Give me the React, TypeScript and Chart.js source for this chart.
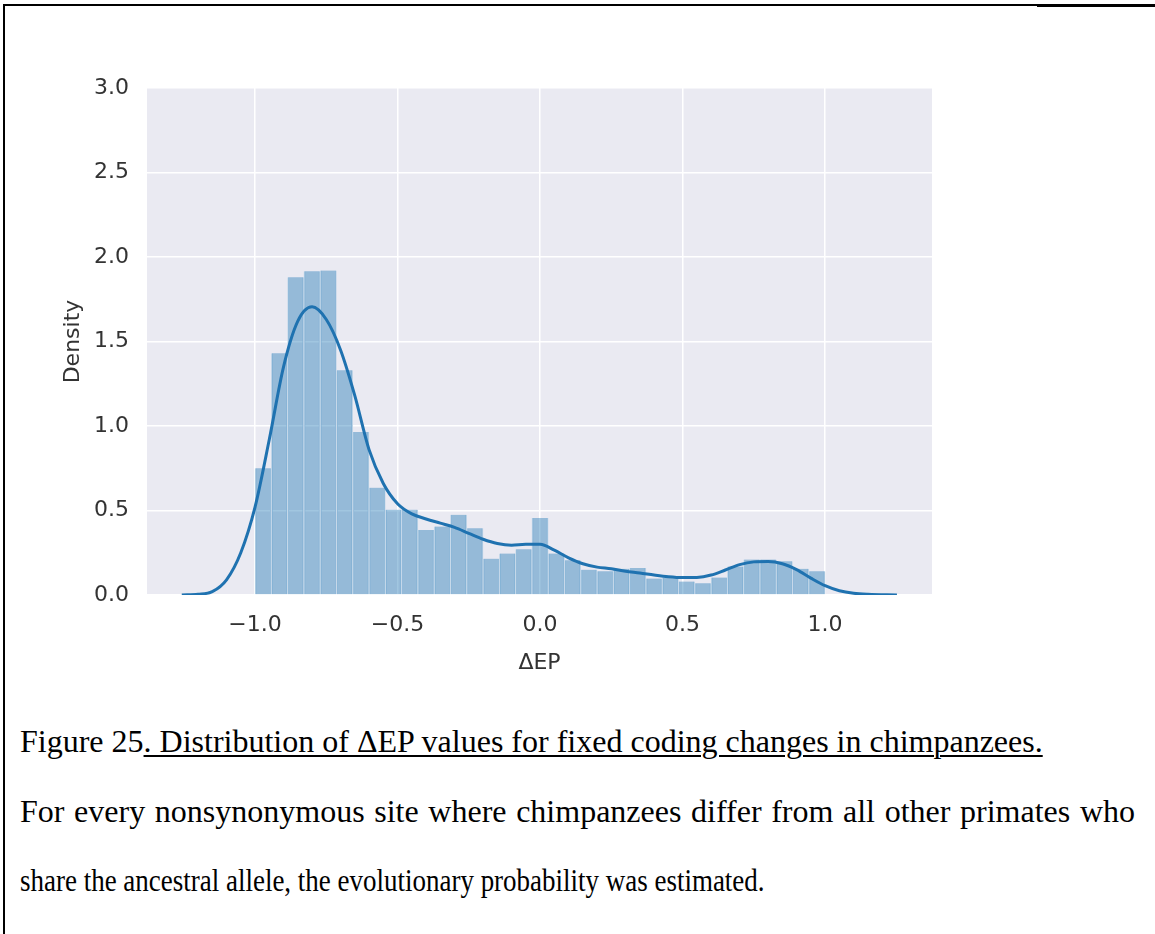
import React, { useEffect, useRef } from 'react';
import { Chart, registerables } from 'chart.js';

Chart.register(...registerables);

// Histogram: 35 equal bins between binStart and binEnd
const binStart = -1.0;
const binEnd = 1.0;
const histHeights = [
  0.75, 1.43, 1.88, 1.915, 1.92, 1.33, 0.965, 0.635, 0.505, 0.505,
  0.385, 0.405, 0.475, 0.395, 0.215, 0.245, 0.27, 0.455, 0.245, 0.205,
  0.15, 0.14, 0.155, 0.16, 0.097, 0.1, 0.08, 0.07, 0.103, 0.168,
  0.21, 0.21, 0.2, 0.155, 0.14,
];

// KDE curve
const kdeX = [
  -1.257, -1.2, -1.15, -1.1, -1.05, -1.0, -0.95, -0.9, -0.85, -0.8,
  -0.75, -0.7, -0.65, -0.6, -0.55, -0.5, -0.45, -0.4, -0.35, -0.3,
  -0.25, -0.2, -0.15, -0.1, -0.05, 0.0, 0.05, 0.1, 0.15, 0.2,
  0.25, 0.3, 0.35, 0.4, 0.45, 0.5, 0.55, 0.6, 0.65, 0.7,
  0.75, 0.8, 0.85, 0.9, 0.95, 1.0, 1.05, 1.1, 1.15, 1.252,
];
const kdeY = [
  0.0, 0.004, 0.02, 0.09, 0.25, 0.52, 0.92, 1.35, 1.62, 1.705,
  1.63, 1.45, 1.18, 0.86, 0.66, 0.54, 0.48, 0.45, 0.425, 0.4,
  0.365, 0.33, 0.305, 0.295, 0.3, 0.3, 0.265, 0.22, 0.185, 0.165,
  0.155, 0.14, 0.13, 0.118, 0.108, 0.103, 0.104, 0.118, 0.148, 0.18,
  0.196, 0.198, 0.185, 0.15, 0.1, 0.055, 0.025, 0.01, 0.004, 0.0,
];

const xTickValues = [-1.0, -0.5, 0.0, 0.5, 1.0];
const xMin = -1.379;
const xMax = 1.375;
const yMin = 0;
const yMax = 3.0;
const yStep = 0.5;
const xLabel = 'ΔEP';
const yLabel = 'Density';

const captionPlain = 'Figure 25';
const captionUnderlined = '. Distribution of ΔEP values for fixed coding changes in chimpanzees.';
const captionLine2 = 'For every nonsynonymous site where chimpanzees differ from all other primates who';
const captionLine3 = 'share the ancestral allele, the evolutionary probability was estimated.';

const fmt = (v: number) => (v < 0 ? '\u2212' : '') + Math.abs(v).toFixed(1);

const plotBg = {
  id: 'plotBg',
  beforeDraw(chart: any) {
    const { ctx, chartArea } = chart;
    if (!chartArea) return;
    ctx.save();
    ctx.fillStyle = '#EAEAF2';
    ctx.fillRect(chartArea.left, chartArea.top, chartArea.right - chartArea.left, chartArea.bottom - chartArea.top);
    ctx.restore();
  },
};

function DistChart() {
  const ref = useRef<HTMLCanvasElement | null>(null);
  useEffect(() => {
    if (!ref.current) return;
    const binWidth = (binEnd - binStart) / histHeights.length;
    const histData = histHeights.map((h, i) => ({ x: binStart + (i + 0.5) * binWidth, y: h }));
    const kdeData = kdeX.map((x, i) => ({ x, y: kdeY[i] }));
    const font = { family: '"DejaVu Sans", sans-serif', size: 22 };
    const textColor = '#333333';
    const chart = new Chart(ref.current, {
      type: 'bar',
      data: {
        datasets: [
          {
            type: 'line',
            data: kdeData as any,
            borderColor: '#1f72b0',
            borderWidth: 3,
            pointRadius: 0,
            cubicInterpolationMode: 'monotone',
            fill: false,
            order: 0,
          } as any,
          {
            type: 'bar',
            data: histData as any,
            backgroundColor: 'rgba(31,119,180,0.42)',
            borderColor: '#c3d7e9',
            borderWidth: { left: 1, right: 1, top: 0, bottom: 0 },
            borderSkipped: false,
            barPercentage: 1,
            categoryPercentage: 1,
            order: 1,
          } as any,
        ],
      },
      options: {
        responsive: false,
        animation: false,
        devicePixelRatio: 1,
        layout: { padding: { top: 88, right: 28, left: 0, bottom: 0 } },
        plugins: { legend: { display: false }, tooltip: { enabled: false } },
        scales: {
          x: {
            type: 'linear',
            min: xMin,
            max: xMax,
            offset: false,
            afterBuildTicks: (s: any) => {
              s.ticks = xTickValues.map((v) => ({ value: v }));
            },
            afterFit: (s: any) => {
              s.height = 105;
            },
            grid: { color: '#ffffff', lineWidth: 1.5, drawTicks: false, offset: false },
            border: { display: false },
            ticks: {
              color: textColor,
              font,
              padding: 17,
              maxRotation: 0,
              autoSkip: false,
              callback: (v: any) => fmt(Number(v)),
            },
            title: { display: true, text: xLabel, color: textColor, font, padding: { top: 0, bottom: 24 } },
          },
          y: {
            type: 'linear',
            min: yMin,
            max: yMax,
            afterFit: (s: any) => {
              s.width = 147;
            },
            grid: { color: '#ffffff', lineWidth: 1.5, drawTicks: false },
            border: { display: false },
            ticks: {
              stepSize: yStep,
              color: textColor,
              font,
              padding: 18,
              callback: (v: any) => fmt(Number(v)),
            },
            title: { display: true, text: yLabel, color: textColor, font, padding: { top: 60, bottom: 0 } },
          },
        },
      } as any,
      plugins: [plotBg],
    });
    return () => chart.destroy();
  }, []);
  return (
    <canvas
      ref={ref}
      width={960}
      height={700}
      style={{ position: 'absolute', left: 0, top: 0, width: 960, height: 700 }}
    />
  );
}

export default function App() {
  const serif = '"Times New Roman", "Liberation Serif", serif';
  const lineStyle: React.CSSProperties = {
    position: 'absolute',
    left: 20,
    fontFamily: serif,
    fontSize: 32,
    lineHeight: '32px',
    whiteSpace: 'nowrap',
    color: '#000',
  };
  return (
    <div
      style={{
        position: 'absolute',
        left: 0,
        top: 0,
        width: 1155,
        height: 934,
        background: '#fff',
        overflow: 'hidden',
      }}
    >
      <DistChart />
      {/* page frame */}
      <div style={{ position: 'absolute', left: 3, top: 4, width: 1152, height: 2, background: '#000' }} />
      <div style={{ position: 'absolute', left: 1037, top: 4, width: 118, height: 3, background: '#000' }} />
      <div style={{ position: 'absolute', left: 3, top: 4, width: 2, height: 930, background: '#000' }} />
      <div style={{ ...lineStyle, top: 725 }}>
        {captionPlain}
        <span style={{ textDecoration: 'underline', textDecorationThickness: 2, textUnderlineOffset: 3 }}>
          {captionUnderlined}
        </span>
      </div>
      <div
        style={{
          ...lineStyle,
          top: 795,
          width: 1115,
          whiteSpace: 'normal',
          textAlign: 'justify',
          textAlignLast: 'justify' as any,
        }}
      >
        {captionLine2}
      </div>
      <div
        style={{
          ...lineStyle,
          top: 864,
          transform: 'scaleX(0.843)',
          transformOrigin: 'left center',
        }}
      >
        {captionLine3}
      </div>
    </div>
  );
}
